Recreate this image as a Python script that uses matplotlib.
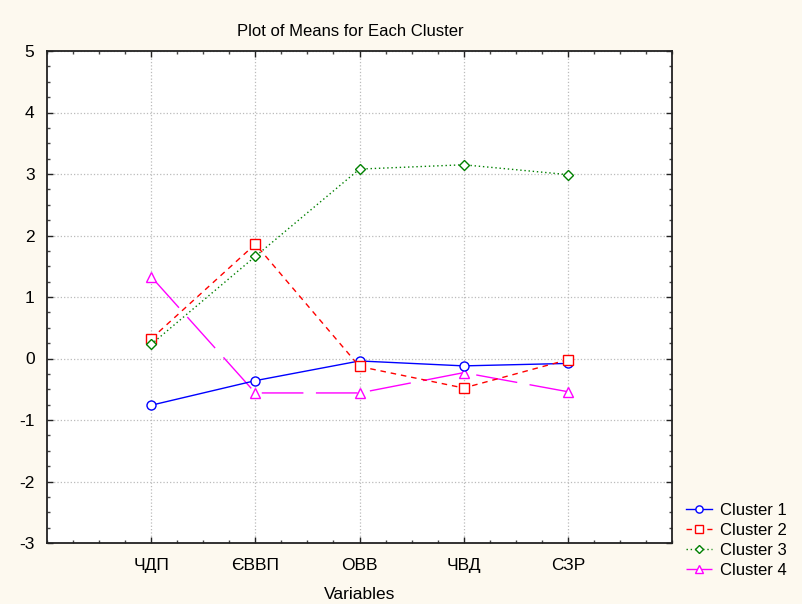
import matplotlib
matplotlib.use("Agg")
import matplotlib.pyplot as plt
from matplotlib.ticker import MultipleLocator

plt.rcParams['font.family'] = ['Liberation Sans', 'DejaVu Sans']
plt.rcParams['axes.unicode_minus'] = False

variables = ["ЧДП", "ЄВВП", "ОВВ", "ЧВД", "СЗР"]
cluster1 = [-0.76, -0.36, -0.04, -0.12, -0.08]
cluster2 = [0.32, 1.86, -0.13, -0.48, -0.02]
cluster3 = [0.23, 1.66, 3.08, 3.15, 2.99]
cluster4 = [1.33, -0.56, -0.56, -0.23, -0.54]
series_names = ["Cluster 1", "Cluster 2", "Cluster 3", "Cluster 4"]

bg = '#FDF9EF'
fig = plt.figure(figsize=(8.02, 6.04), dpi=100, facecolor=bg)
ax = fig.add_axes([47/802, 61/604, 625/802, 492/604])
ax.set_facecolor('white')

x = list(range(1, len(variables) + 1))

ax.plot(x, cluster1, color='#0000FF', lw=1.0, marker='o', ms=6.5, mfc='white', mec='#0000FF', mew=1.0,
        label=series_names[0], zorder=3)
ax.plot(x, cluster2, color='#FF0000', lw=1.0, marker='s', ms=6.5, mfc='white', mec='#FF0000', mew=1.0,
        dashes=(4, 3.5), label=series_names[1], zorder=4)
ax.plot(x, cluster3, color='#008000', lw=1.0, marker='D', ms=5, mfc='white', mec='#008000', mew=1.0,
        dashes=(1, 2), label=series_names[2], zorder=5)
ax.plot(x, cluster4, color='#FF00FF', lw=1.0, marker='^', ms=7.5, mfc='white', mec='#FF00FF', mew=1.0,
        dashes=(30, 9), label=series_names[3], zorder=2)

ax.set_xlim(0, 6)
ax.set_ylim(-3, 5)
ax.set_xticks(x)
ax.set_xticklabels(variables, fontsize=12.5)
ax.xaxis.set_minor_locator(MultipleLocator(0.25))
ax.yaxis.set_major_locator(MultipleLocator(1))
ax.yaxis.set_minor_locator(MultipleLocator(0.25))
ax.tick_params(axis='both', which='major', direction='in', length=4, width=1, top=True, right=True,
               labelsize=12.5, color='#222222')
ax.tick_params(axis='both', which='minor', direction='in', length=2.5, width=1, top=True, right=True,
               color='#444444')
ax.tick_params(axis='x', which='major', pad=11)
ax.tick_params(axis='y', which='major', pad=9)

ax.grid(True, which='major', color='#BBBBBB', linestyle=':', linewidth=0.9)
ax.set_axisbelow(True)
for s in ax.spines.values():
    s.set_color('#222222')
    s.set_linewidth(1.3)

fig.text(350/802, 1 - 31/604, "Plot of Means for Each Cluster", fontsize=12, ha='center', va='center')
ax.set_xlabel("Variables", fontsize=12.5, labelpad=10)

leg = fig.legend(loc='upper left', bbox_to_anchor=(674/802, 1 - 491/604), frameon=False,
                 fontsize=12, handlelength=1.6, handletextpad=0.45, labelspacing=0.3,
                 borderpad=0.2, markerscale=0.8)

fig.savefig("out.png", dpi=100, facecolor=bg)
